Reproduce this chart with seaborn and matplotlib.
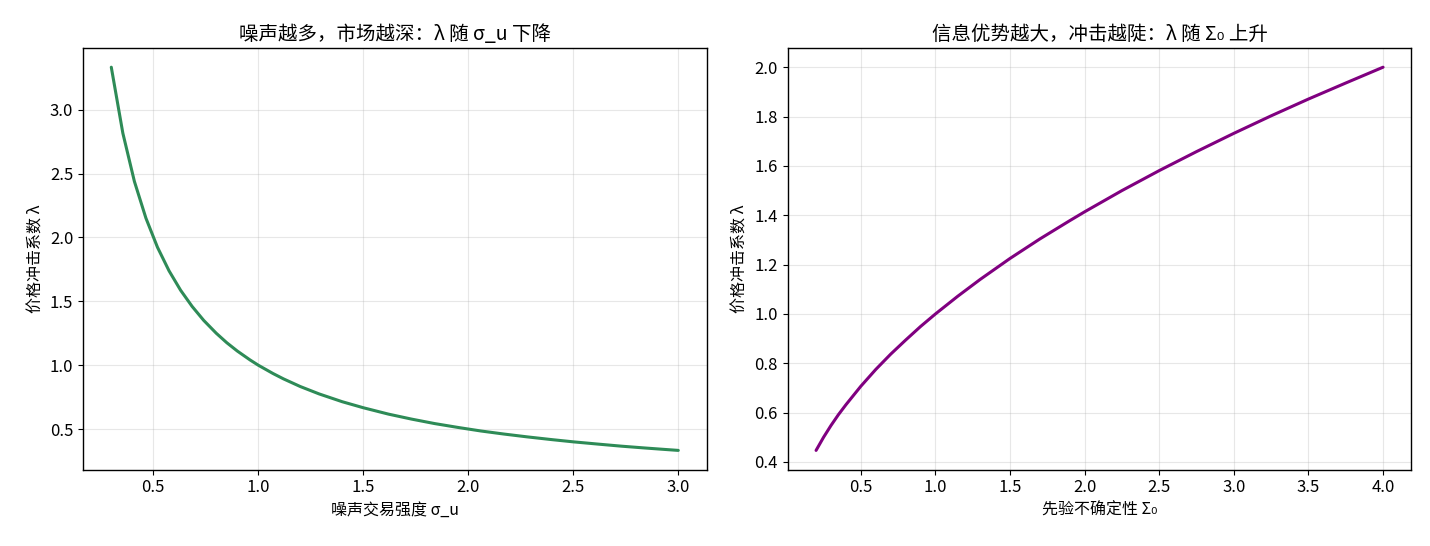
import matplotlib
matplotlib.use('Agg')
import matplotlib.pyplot as plt
import seaborn as sns
import pandas as pd

# values
sigma_u = [0.30, 0.355, 0.41, 0.465, 0.52, 0.575, 0.63, 0.685, 0.74, 0.80, 0.85,
           0.90, 0.96, 1.00, 1.07, 1.12, 1.20, 1.29, 1.40, 1.50, 1.62, 1.73, 1.84,
           1.95, 2.06, 2.17, 2.28, 2.40, 2.50, 2.62, 2.73, 2.84, 2.94, 3.00]
lam_noise = [3.333, 2.817, 2.439, 2.151, 1.923, 1.739, 1.587, 1.460, 1.351, 1.250,
             1.176, 1.111, 1.042, 1.000, 0.935, 0.893, 0.833, 0.775, 0.714, 0.667,
             0.617, 0.578, 0.543, 0.513, 0.485, 0.461, 0.439, 0.417, 0.400, 0.382,
             0.366, 0.352, 0.340, 0.333]

sigma0 = [0.20, 0.25, 0.30, 0.35, 0.40, 0.50, 0.60, 0.70, 0.80, 0.90, 1.00, 1.15,
          1.30, 1.50, 1.70, 1.90, 2.00, 2.25, 2.50, 2.75, 3.00, 3.25, 3.50, 3.75, 4.00]
lam_prior = [0.447, 0.500, 0.548, 0.592, 0.632, 0.707, 0.775, 0.837, 0.894, 0.949,
             1.000, 1.072, 1.140, 1.225, 1.304, 1.378, 1.414, 1.500, 1.581, 1.658,
             1.732, 1.803, 1.871, 1.936, 2.000]

sns.set_style('ticks')
plt.rcParams['font.family'] = ['Noto Sans CJK SC', 'DejaVu Sans']
plt.rcParams['axes.unicode_minus'] = False
plt.rcParams['axes.edgecolor'] = 'black'
plt.rcParams['text.color'] = 'black'
plt.rcParams['axes.labelcolor'] = 'black'
plt.rcParams['xtick.color'] = 'black'
plt.rcParams['ytick.color'] = 'black'
plt.rcParams['grid.color'] = '#b0b0b0'

df1 = pd.DataFrame({'x': sigma_u, 'y': lam_noise})
df2 = pd.DataFrame({'x': sigma0, 'y': lam_prior})

fig, axes = plt.subplots(1, 2, figsize=(14.3, 5.46), dpi=100)

ax = axes[0]
sns.lineplot(data=df1, x='x', y='y', ax=ax, color='seagreen', linewidth=2.2)
ax.set_title('噪声越多，市场越深：λ 随 σ_u 下降', fontsize=14)
ax.set_xlabel('噪声交易强度 σ_u', fontsize=11.5)
ax.set_ylabel('价格冲击系数 λ', fontsize=11.5)

ax = axes[1]
sns.lineplot(data=df2, x='x', y='y', ax=ax, color='purple', linewidth=2.2)
ax.set_title('信息优势越大，冲击越陡：λ 随 Σ₀ 上升', fontsize=14)
ax.set_xlabel('先验不确定性 Σ₀', fontsize=11.5)
ax.set_ylabel('价格冲击系数 λ', fontsize=11.5)

for ax in axes:
    ax.grid(True, alpha=0.3)
    ax.tick_params(labelsize=12)
    for s in ax.spines.values():
        s.set_linewidth(1.0)

plt.subplots_adjust(left=0.058, right=0.987, bottom=0.14, top=0.912, wspace=0.13)
fig.savefig('out.png', dpi=100)
